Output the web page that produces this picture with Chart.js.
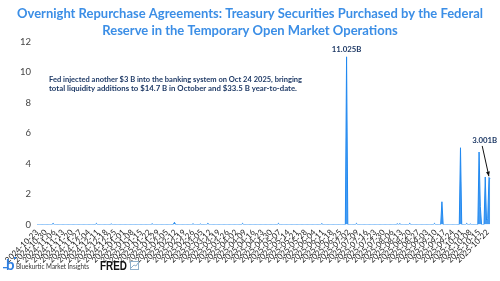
<!DOCTYPE html>
<html>
<head>
<meta charset="utf-8">
<script src="https://cdn.jsdelivr.net/npm/chart.js@4"></script>
<style>
html,body{margin:0;padding:0;background:#fff;}
#wrap{position:relative;width:500px;height:281px;}
</style>
</head>
<body>
<div id="wrap"><canvas id="c" width="500" height="281"></canvas></div>
<script>
// ---- data ----
const startDate = '2024-10-23';
const endDate = '2025-10-24';
const titleLines = ['Overnight Repurchase Agreements: Treasury Securities Purchased by the Federal',
                    'Reserve in the Temporary Open Market Operations'];
const noteLines = ['Fed injected another $3 B into the banking system on Oct 24 2025, bringing',
                   'total liquidity additions to $14.7 B in October and $33.5 B year-to-date.'];
const yTicks = [0, 2, 4, 6, 8, 10, 12];
// non-zero observations (billions of $); every other day is 0
const valueDates = ['2024-11-05','2024-12-10','2024-12-22','2025-01-24','2025-02-11','2025-02-26','2025-03-04',
  '2025-03-10','2025-04-07','2025-05-06','2025-06-10','2025-06-30','2025-07-08','2025-08-10','2025-08-12',
  '2025-08-20','2025-09-09','2025-09-15','2025-09-30','2025-10-05','2025-10-08','2025-10-15','2025-10-16',
  '2025-10-20','2025-10-21','2025-10-22','2025-10-23','2025-10-24'];
const values = [0.08,0.08,0.04,0.05,0.15,0.05,0.04,
  0.08,0.08,0.08,0.06,11.025,0.08,0.05,0.06,
  0.08,0.08,1.5,5.05,0.08,0.04,4.77,1.2,
  3.13,0.3,0.4,3.1,3.001];
const peakLabels = [{date:'2025-06-30', text:'11.025B'}, {date:'2025-10-24', text:'3.001B'}];

// categories: every calendar day in range
const categories = [];
{
  const d = new Date(startDate + 'T00:00:00Z');
  const e = new Date(endDate + 'T00:00:00Z');
  while (d <= e) { categories.push(d.toISOString().slice(0,10)); d.setUTCDate(d.getUTCDate()+1); }
}
const series = categories.map(c => { const i = valueDates.indexOf(c); return i >= 0 ? values[i] : 0; });

const overlay = {
  id: 'overlay',
  afterDraw(chart) {
    const ctx = chart.ctx;
    const xs = chart.scales.x, ys = chart.scales.y;
    ctx.save();
    // title
    ctx.fillStyle = '#3b8ee6';
    ctx.font = 'bold 13px Lato';
    ctx.textAlign = 'center';
    ctx.textBaseline = 'middle';
    ctx.fillText(titleLines[0], 250, 14, 466);
    ctx.fillText(titleLines[1], 250, 31);
    // note
    ctx.fillStyle = '#1f3a66';
    ctx.font = 'bold 7.8px Lato';
    ctx.textAlign = 'left';
    ctx.fillText(noteLines[0], 49, 79, 253);
    ctx.fillText(noteLines[1], 49, 88.5);
    // peak labels
    ctx.font = 'bold 7.8px Lato';
    ctx.textAlign = 'center';
    const p0 = categories.indexOf(peakLabels[0].date);
    ctx.fillText(peakLabels[0].text, xs.getPixelForValue(p0), ys.getPixelForValue(series[p0]) - 7);
    const p1 = categories.indexOf(peakLabels[1].date);
    const tx = xs.getPixelForValue(p1), ty = ys.getPixelForValue(series[p1]);
    ctx.fillText(peakLabels[1].text, tx - 5.5, ty - 38);
    // arrow
    ctx.strokeStyle = '#111';
    ctx.fillStyle = '#111';
    ctx.lineWidth = 1;
    const ax = tx - 8, ay = ty - 33, bx = tx - 1.3, by = ty - 2.7;
    ctx.beginPath(); ctx.moveTo(ax, ay); ctx.lineTo(bx, by); ctx.stroke();
    const ang = Math.atan2(by - ay, bx - ax);
    ctx.beginPath();
    ctx.moveTo(bx, by);
    ctx.lineTo(bx - 5*Math.cos(ang - 0.4), by - 5*Math.sin(ang - 0.4));
    ctx.lineTo(bx - 5*Math.cos(ang + 0.4), by - 5*Math.sin(ang + 0.4));
    ctx.closePath(); ctx.fill();
    // footer
    ctx.fillStyle = '#2f7fe0';
    ctx.font = 'bold 15px Lato';
    ctx.textAlign = 'left';
    ctx.fillText('b', 6, 265);
    ctx.fillRect(3, 267, 4, 1.3);
    ctx.fillRect(14, 257, 2, 2);
    ctx.fillStyle = '#333';
    ctx.font = '8px Lato';
    ctx.fillText('Bluekurtic Market Insights', 16, 266.5, 73);
    ctx.fillStyle = '#111';
    ctx.font = 'bold 12px "Liberation Sans"';
    ctx.fillText('FRED', 100, 266.5, 27);
    ctx.strokeStyle = '#8fb0cc';
    ctx.strokeRect(130.5, 261.5, 8, 8);
    ctx.beginPath(); ctx.moveTo(131, 268); ctx.lineTo(134, 265); ctx.lineTo(136, 266); ctx.lineTo(138, 263); ctx.stroke();
    ctx.restore();
  }
};

new Chart(document.getElementById('c'), {
  type: 'line',
  data: {
    labels: categories,
    datasets: [{
      data: series,
      borderColor: '#2189f0',
      backgroundColor: 'rgba(36,138,240,0.85)',
      borderWidth: 1,
      pointRadius: 0,
      tension: 0,
      fill: 'origin'
    }]
  },
  options: {
    responsive: false,
    animation: false,
    devicePixelRatio: 1,
    layout: { padding: { top: 42, bottom: 0, left: 4, right: 8 } },
    plugins: { legend: { display: false }, tooltip: { enabled: false } },
    scales: {
      x: {
        afterFit: s => { s.height = 56.4; },
        grid: { display: false, drawTicks: false },
        border: { display: false },
        ticks: {
          autoSkip: false,
          minRotation: 45, maxRotation: 45,
          padding: 3,
          color: '#222',
          font: { family: 'Lato', size: 8 },
          callback: function(v, i) { return i % 7 === 0 ? categories[i] : ''; }
        }
      },
      y: {
        min: 0, max: 12,
        afterBuildTicks: s => { s.ticks = yTicks.map(v => ({value: v})); },
        afterFit: s => { s.width = 33; },
        grid: { display: false, drawTicks: false },
        border: { display: false },
        ticks: { color: '#444', font: { family: 'Lato', size: 9.5 }, padding: 6 }
      }
    }
  },
  plugins: [overlay]
});
</script>
</body>
</html>
